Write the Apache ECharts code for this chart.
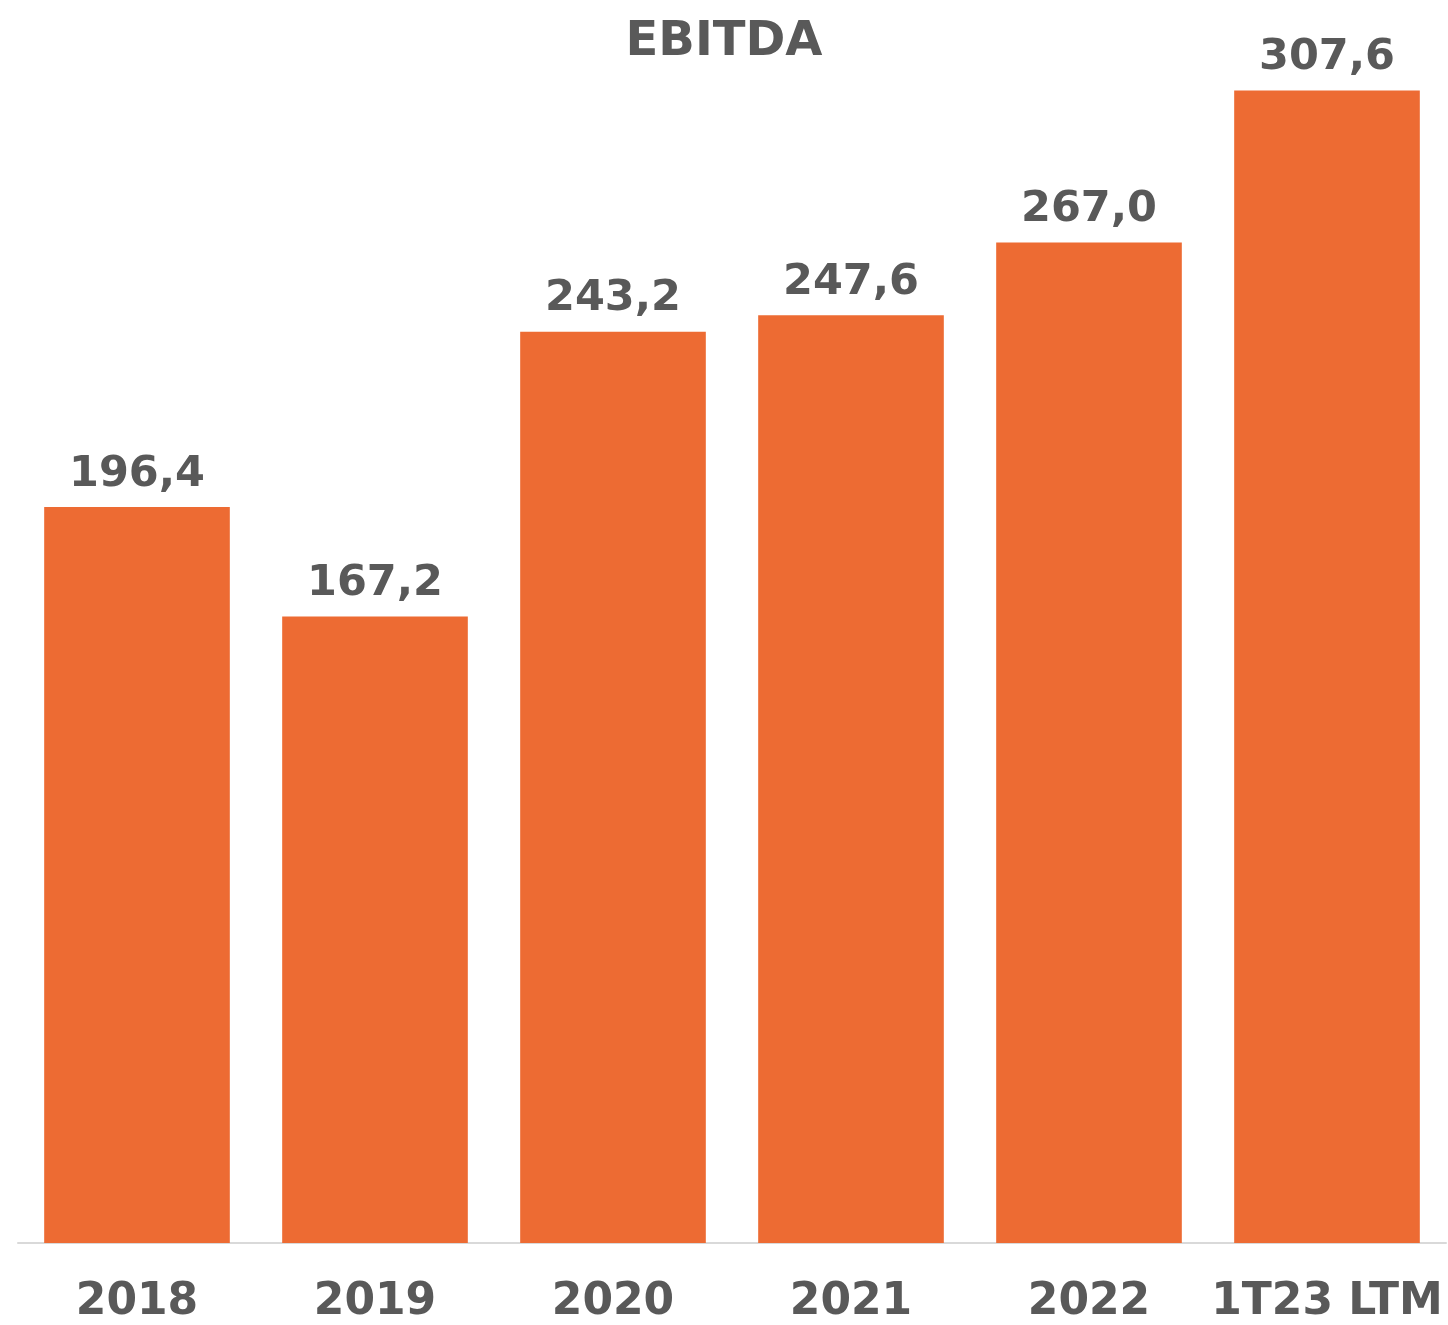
<!DOCTYPE html>
<html>
<head>
<meta charset="utf-8">
<script src="https://cdn.jsdelivr.net/npm/echarts@6/dist/echarts.min.js"></script>
<style>
  html, body { margin: 0; padding: 0; background: #fff; }
  #chart { width: 1448px; height: 1325px; }
</style>
</head>
<body>
<div id="chart"></div>
<script>
var categories = ['2018', '2019', '2020', '2021', '2022', '1T23 LTM'];
var ebitda = [196.4, 167.2, 243.2, 247.6, 267.0, 307.6];

var chart = echarts.init(document.getElementById('chart'));
var fontFamily = '"DejaVu Sans", Verdana, sans-serif';

var option = {
    animation: false,
    title: {
        text: 'EBITDA',
        left: 'center',
        top: 14,
        textStyle: {
            fontFamily: fontFamily,
            fontSize: 48,
            fontWeight: 'bold',
            color: '#595959'
        }
    },
    grid: {
        left: 18,
        right: 2,
        top: 44,
        bottom: 79
    },
    xAxis: {
        type: 'category',
        data: categories,
        axisTick: { show: false },
        axisLine: { lineStyle: { color: '#d9d9d9', width: 2 } },
        axisLabel: {
            interval: 0,
            hideOverlap: false,
            margin: 38,
            fontFamily: fontFamily,
            fontSize: 44,
            fontWeight: 'bold',
            color: '#595959'
        }
    },
    yAxis: {
        type: 'value',
        min: 0,
        max: 320,
        show: false,
        splitLine: { show: false }
    },
    series: [{
        type: 'bar',
        data: ebitda,
        barCategoryGap: '22%',
        itemStyle: { color: '#ED6B33' },
        label: {
            show: true,
            position: 'top',
            distance: 11,
            fontFamily: fontFamily,
            fontSize: 43,
            fontWeight: 'bold',
            color: '#595959',
            formatter: function (p) {
                return p.value.toFixed(1).replace('.', ',');
            }
        }
    }]
};
chart.setOption(option);
</script>
</body>
</html>
